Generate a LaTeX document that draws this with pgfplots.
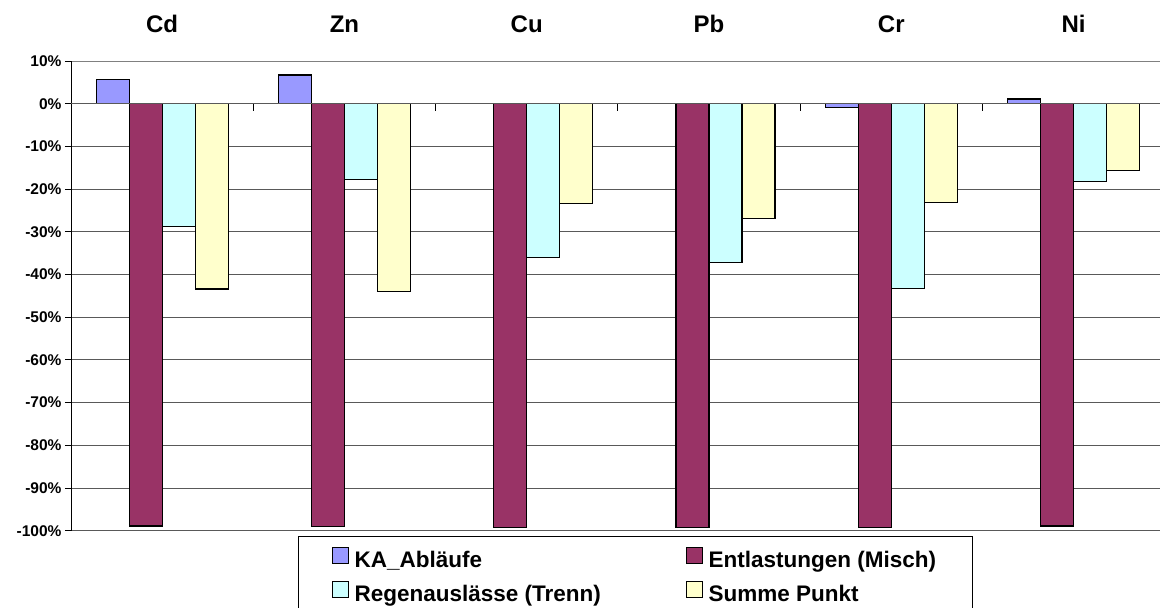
\documentclass[border=0pt]{standalone}
\usepackage{pgfplots}
\pgfplotsset{compat=1.18}
\usepackage{fontspec}
\setmainfont{Liberation Sans}
\definecolor{cKA}{HTML}{9999FF}
\definecolor{cEN}{HTML}{993366}
\definecolor{cRE}{HTML}{CCFFFF}
\definecolor{cSU}{HTML}{FFFFCC}
\newcommand{\lgs}{\rule[-9.5bp]{0pt}{35bp}\kern3bp}
\begin{document}
\begin{tikzpicture}
\begin{axis}[
  at={(71bp,-61bp)}, anchor=north west,
  scale only axis, width=1089bp, height=469.7bp,
  xmin=-0.5, xmax=5.474, ymin=-100, ymax=10,
  axis y line*=left, axis x line*=top,
  x axis line style={draw=gray, line width=1bp},
  y axis line style={draw=black, line width=1bp},
  xtick={0,...,5}, xticklabels={Cd,Zn,Cu,Pb,Cr,Ni},
  x tick style={draw=none},
  xticklabel style={font=\fontsize{24bp}{28bp}\selectfont\bfseries, anchor=base, yshift=23bp},
  ytick={-100,-90,...,10},
  yticklabel={\pgfmathprintnumber{\tick}\%},
  /pgf/number format/assume math mode=true,
  yticklabel style={font=\fontsize{15.5bp}{18bp}\selectfont\bfseries},
  y tick style={draw=black, line width=1bp},
  ytick align=outside, major tick length=6bp,
  ymajorgrids, major grid style={draw=gray!70!black, line width=1bp},
  ybar=0pt, bar width=33bp,
  every axis plot/.append style={draw=black, line width=1.2bp},
  clip=false,
  legend columns=2,
  legend style={at={(0.2085,-0.0123)}, anchor=north west, draw=black, line width=1bp,
    font=\fontsize{22.5bp}{26bp}\selectfont\bfseries, inner xsep=33bp, inner ysep=5.5bp,
    row sep=7bp,
    /tikz/every odd column/.append style={column sep=0bp},
    /tikz/every even column/.append style={column sep=0bp},
    nodes={inner ysep=0bp, inner xsep=3bp}},
  legend cell align=left,
  legend image code/.code={\draw[#1, line width=1bp] (0bp,-7.5bp) rectangle (16bp,8.5bp);},
]
\addplot[fill=cKA] coordinates {(0,5.7) (1,6.7) (4,-0.8) (5,1.1)};
\addplot[fill=cEN] coordinates {(0,-98.9) (1,-99.0) (2,-99.3) (3,-99.3) (4,-99.3) (5,-98.9)};
\addplot[fill=cRE] coordinates {(0,-28.7) (1,-17.7) (2,-36.0) (3,-37.2) (4,-43.3) (5,-18.2)};
\addplot[fill=cSU] coordinates {(0,-43.4) (1,-44.0) (2,-23.3) (3,-26.8) (4,-23.2) (5,-15.6)};
\legend{\makebox[331bp][l]{\lgs KA\_Abläufe}, \lgs Entlastungen (Misch), \makebox[331bp][l]{\lgs Regenauslässe (Trenn)}, \lgs Summe Punkt}
\pgfplotsinvokeforeach{0.5,1.5,2.5,3.5,4.5}{\draw[black, line width=1bp] (axis cs:#1,0) -- ++(0bp,-7bp);}
\draw[gray!70!black, line width=1bp] (axis cs:-0.5,0) -- (axis cs:5.474,0);
\end{axis}
\pgfresetboundingbox
\useasboundingbox (0,0) rectangle (1160bp,-608bp);
\end{tikzpicture}
\end{document}
